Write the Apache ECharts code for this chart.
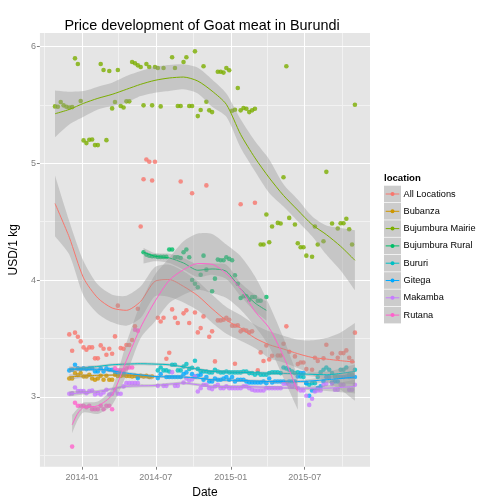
<!DOCTYPE html>
<html><head><meta charset="utf-8">
<style>html,body{margin:0;padding:0;background:#fff}#c{width:504px;height:504px}</style>
<script src="https://cdn.jsdelivr.net/npm/echarts@6/dist/echarts.min.js"></script>
</head><body><div id="c"></div>
<script>
const _ = null;
const firstWeek = '2013-10-27';
const xLabelDates = ['2014-01-01','2014-07-01','2015-01-01','2015-07-01'];
const xMinorDates = ['2013-10-01','2014-04-01','2014-10-01','2015-04-01','2015-10-01'];
const yLabels = [3,4,5,6];
const yMinor = [2.5,3.5,4.5,5.5];
const locations = ['All Locations','Bubanza','Bujumbura Mairie','Bujumbura Rural','Bururi','Gitega','Makamba','Rutana'];
const colors = ['#F8766D','#CD9600','#7CAE00','#00BE67','#00BFC4','#00A9FF','#C77CFF','#FF61CC'];

// weekly prices, one entry per week from firstWeek
const allLocations = [_,_,_,_,_,3.535,3.395,3.55,3.515,3.475,
 3.424,3.404,3.424,3.424,3.33,3.33,3.441,3.412,3.361,3.412,
 3.37,3.518,3.781,3.418,3.412,3.444,3.444,3.487,3.604,3.755,
 4.458,4.863,5.032,5.012,4.852,5.012,3.678,3.646,3.678,3.327,
 3.378,3.749,3.678,3.632,4.843,3.715,3.741,3.632,4.743,3.723,
 3.552,3.589,3.689,4.81,3.515,3.561,3.304,3.655,3.655,3.66,
 3.678,3.66,3.609,3.284,3.612,4.649,3.575,3.567,3.552,3.561,
 4.661,3.227,3.381,3.307,3.441,3.321,3.352,_,3.355,3.355,
 3.455,3.604,3.387,_,3.347,3.281,3.295,3.295,3.238,_,
 3.232,3.335,3.307,_,3.33,3.447,_,3.372,_,3.335,
 3.375,3.375,3.398,3.335,3.304,3.55];
const allExtraWeeks = [63,65];
const allExtraValues = [3.609,3.561];
const bubanza = [_,_,_,_,_,3.158,3.158,3.204,3.187,3.204,
 3.175,3.175,3.19,3.158,3.147,3.158,3.181,3.147,3.181,3.147,
 3.147,3.19,3.18,3.18,3.185,3.18,3.18,3.175,3.18,3.175,
 3.18,3.175,3.18,3.17,3.175];
const mairie = [5.486,5.483,5.523,5.495,5.483,5.477,5.48,5.897,5.849,5.532,
 5.195,5.172,5.2,5.203,5.155,5.155,5.849,5.797,5.197,5.789,
 5.469,5.523,5.797,5.489,5.477,5.529,5.529,5.866,5.855,5.837,
 5.823,5.495,5.849,5.823,5.495,5.823,5.815,5.486,5.815,_,
 _,5.906,5.815,5.489,5.489,5.866,5.906,5.489,5.489,5.957,
 5.403,5.455,5.829,5.526,5.452,5.437,_,5.783,5.783,5.775,
 5.815,5.795,5.449,5.457,5.643,5.452,5.472,5.466,5.437,5.452,
 5.466,_,4.304,4.304,4.561,4.324,4.458,_,4.489,4.484,
 4.88,5.829,4.532,_,4.475,4.315,4.281,4.281,4.209,_,
 4.2,4.458,4.304,_,4.332,4.926,_,4.484,_,4.441,
 4.486,4.486,4.524,4.435,4.304,5.5];
const rural = [_,_,_,_,_,_,_,_,_,_,
 _,_,_,_,_,_,_,_,_,_,
 _,_,_,_,_,_,_,_,_,_,
 _,4.238,4.218,4.209,4.204,4.204,4.198,4.198,4.198,4.198,
 4.261,4.261,4.195,4.195,4.189,4.238,4.261,4.195,4,3.969,
 3.938,4.046,4.209,4.089,_,3.904,4.012,4.175,4.169,4.169,
 4.195,4.181,4.169,4.041,3.969,3.846,3.861,3.861,3.832,3.855,
 3.855,3.823,3.823,_,3.855];
const bururi = [_,_,_,_,_,_,_,_,_,_,
 _,_,_,_,_,_,_,_,_,_,
 _,_,_,_,_,_,_,_,_,_,
 _,_,_,_,_,_,3.227,3.252,3.227,3.227,
 3.218,3.275,3.275,3.227,3.227,3.261,3.281,3.24,3.25,3.31,
 3.24,3.218,3.218,3.218,3.21,3.21,3.232,3.218,3.21,3.21,
 3.218,3.21,3.21,3.21,3.21,3.21,3.218,3.218,3.204,3.204,
 3.19,3.204,3.19,3.19,3.19,3.204,3.21,3.21,3.21,3.204,
 3.252,3.244,3.232,3.218,3.204,3.21,3.175,3.17,3.118,3.104,
 3.118,3.118,3.17,3.21,3.232,3.252,3.232,3.204,3.175,3.175,
 3.232,3.232,3.252,3.19,3.19,3.232];
const gitega = [_,_,_,_,_,3.227,3.232,3.275,3.244,3.238,
 3.244,3.238,3.244,3.244,3.218,3.218,3.244,3.218,3.244,3.232,
 3.232,3.218,3.21,3.21,3.2,_,_,_,_,3.161,
 _,_,_,_,_,_,3.161,3.195,_,3.17,
 3.17,3.17,3.17,3.17,3.17,3.195,3.21,_,3.195,3.175,
 3.181,3.19,3.147,3.17,3.132,3.132,3.158,3.147,3.147,3.158,
 3.17,3.147,3.17,3.132,3.147,3.147,3.147,3.132,3.124,3.124,
 3.124,3.124,3.124,3.132,3.118,3.158,3.124,3.132,3.132,3.132,
 3.132,3.124,3.132,3.132,3.132,3.175,3.204,3.204,3.118,3.01,
 3.055,3.055,3.075,3.09,3.132,3.17,3.17,3.124,3.132,3.132,
 3.17,3.17,3.175,3.17,3.17,3.17];
const makamba = [_,_,_,_,_,3.027,3.03,3.081,3.05,3.05,
 3.05,3.032,3.05,3.055,3.021,3.032,3.021,3.038,3.061,3.021,
 3.027,3.055,3.027,3.027,3.09,3.118,3.118,3.118,3.118,3.118,
 _,_,_,_,_,_,3.095,_,3.095,3.095,
 _,3.212,3.095,3.095,_,3.124,3.158,3.141,3.15,3.175,
 3.047,3.075,3.104,3.104,3.075,3.067,3.09,3.104,3.075,3.075,
 3.09,3.075,3.075,3.075,3.075,3.075,3.09,3.09,3.075,3.061,
 3.055,3.055,3.055,3.055,3.075,3.075,3.075,3.075,3.075,3.075,
 3.112,3.112,3.104,3.09,3.104,3.075,3.055,3.055,3.01,2.932,
 2.984,3.047,3.055,3.055,3.104,3.112,_,3.112,3.061,3.061,
 3.104,3.104,_,3.061,3.061,3.104];
const rutana = [_,_,_,_,_,_,2.575,2.95,2.924,2.924,
 2.924,2.912,2.924,2.895,2.895,2.895,2.924,2.895,2.924,2.924,
 2.895,3.244,3.227,3.227,3.227,3.244,3.252,3.252,3.575,3.567];

// smoothed curves: week number, fitted value, ribbon low and high
const allSmoothWeeks = [0,5,10,15,20,25,30,35,40,45,50,55,60,65,70,75,80,85,90,95,100,105];
const allFit = [4.655,4.366,4.018,3.846,3.761,3.741,3.818,3.989,4.004,3.946,3.866,3.755,3.655,3.59,3.504,3.447,3.41,3.37,3.338,3.324,3.31,3.298];
const allLow = [4.375,4.218,3.866,3.712,3.638,3.609,3.675,3.861,3.855,3.809,3.741,3.635,3.54,3.48,3.418,3.332,3.295,3.247,3.19,3.132,3.061,2.967];
const allHigh = [4.895,4.504,4.161,3.961,3.875,3.866,3.946,4.112,4.132,4.075,3.989,3.875,3.77,3.7,3.618,3.561,3.524,3.49,3.484,3.504,3.552,3.632];
const bubanzaSmoothWeeks = [5,15,25,34];
const bubanzaFit = [3.172,3.185,3.187,3.17];
const bubanzaLow = [3.15,3.175,3.177,3.148];
const bubanzaHigh = [3.194,3.195,3.197,3.192];
const mairieSmoothWeeks = [0,5,10,15,20,25,30,35,40,45,50,55,60,65,70,75,80,85,90,95,100,105];
const mairieFit = [5.423,5.46,5.512,5.555,5.589,5.632,5.675,5.709,5.729,5.737,5.703,5.617,5.503,5.246,5.046,4.875,4.724,4.598,4.475,4.389,4.289,4.169];
const mairieLow = [5.223,5.332,5.397,5.46,5.489,5.517,5.574,5.603,5.617,5.632,5.597,5.483,5.397,5.132,4.932,4.746,4.63,4.504,4.375,4.218,4.081,3.912];
const mairieHigh = [5.623,5.612,5.617,5.655,5.689,5.746,5.789,5.826,5.84,5.846,5.817,5.717,5.597,5.375,5.189,5.032,4.82,4.689,4.546,4.466,4.446,4.426];
const ruralSmoothWeeks = [31,35,40,45,50,55,60,65,70,74];
const ruralFit = [4.238,4.204,4.189,4.146,4.084,4.095,4.075,3.924,3.804,3.741];
const ruralLow = [4.141,4.161,4.146,4.089,4.026,4.046,4.009,3.861,3.732,3.655];
const ruralHigh = [4.275,4.232,4.226,4.189,4.132,4.141,4.132,3.975,3.875,3.818];
const bururiSmoothWeeks = [5,15,20,30,35,40,50,55,65,75,85,95,105];
const bururiFit = [3.232,3.261,3.275,3.284,3.281,3.275,3.238,3.218,3.21,3.204,3.198,3.19,3.218];
const bururiLow = [3.21,3.249,3.263,3.272,3.269,3.263,3.226,3.206,3.198,3.192,3.186,3.165,3.158];
const bururiHigh = [3.254,3.273,3.287,3.296,3.293,3.287,3.25,3.23,3.222,3.216,3.21,3.215,3.278];
const gitegaSmoothWeeks = [5,15,25,35,45,50,55,65,75,85,95,105];
const gitegaFit = [3.238,3.237,3.204,3.175,3.17,3.161,3.147,3.141,3.132,3.132,3.147,3.17];
const gitegaLow = [3.216,3.225,3.192,3.163,3.158,3.149,3.135,3.129,3.12,3.12,3.122,3.11];
const gitegaHigh = [3.26,3.249,3.216,3.187,3.182,3.173,3.159,3.153,3.144,3.144,3.172,3.23];
const makambaSmoothWeeks = [5,15,25,35,45,55,65,75,85,95,105];
const makambaFit = [3.027,3.047,3.09,3.098,3.118,3.09,3.09,3.081,3.075,3.075,3.09];
const makambaLow = [3.005,3.035,3.078,3.086,3.106,3.078,3.078,3.069,3.063,3.05,3.03];
const makambaHigh = [3.049,3.059,3.102,3.11,3.13,3.102,3.102,3.093,3.087,3.1,3.15];
const rutanaSmoothWeeks = [6,8,10,15,20,25,30,35,40,45,50,55,60,65,70,75,80,85];
const rutanaFit = [2.761,2.861,2.91,2.924,3.018,3.312,3.596,3.818,3.998,4.089,4.141,4.135,4.055,3.924,3.732,3.59,3.347,3.047];
const rutanaLow = [2.69,2.804,2.867,2.855,2.932,3.19,3.504,3.646,3.804,3.875,3.918,3.889,3.846,3.746,3.604,3.432,3.161,2.89];
const rutanaHigh = [2.847,2.904,2.952,2.961,3.075,3.461,3.804,4.046,4.189,4.332,4.398,4.395,4.304,4.204,4.032,3.789,3.504,3.175];

const DAY = 864e5;
const toTime = s => Date.parse(s + 'T00:00:00Z');
const t0 = toTime(firstWeek);
const weekTime = k => t0 + k * 7 * DAY;
const font = 'Liberation Sans';

const pointSets = [allLocations,bubanza,mairie,rural,bururi,gitega,makamba,rutana];
const smoothSets = [
 [allSmoothWeeks,allFit,allLow,allHigh],[bubanzaSmoothWeeks,bubanzaFit,bubanzaLow,bubanzaHigh],
 [mairieSmoothWeeks,mairieFit,mairieLow,mairieHigh],[ruralSmoothWeeks,ruralFit,ruralLow,ruralHigh],
 [bururiSmoothWeeks,bururiFit,bururiLow,bururiHigh],[gitegaSmoothWeeks,gitegaFit,gitegaLow,gitegaHigh],
 [makambaSmoothWeeks,makambaFit,makambaLow,makambaHigh],[rutanaSmoothWeeks,rutanaFit,rutanaLow,rutanaHigh]];

const series = [];
const gridSeries = (xs, ys, color, z) => ({
  type:'line', data:[], z, silent:true,
  markLine:{silent:true, symbol:'none', animation:false, label:{show:false}, z,
    lineStyle:{color, width:1, type:'solid'},
    data:[...xs.map(x=>({xAxis:toTime(x)})), ...ys.map(y=>({yAxis:y}))]}
});
series.push(gridSeries(xMinorDates, yMinor, '#F2F2F2', 1));
series.push(gridSeries(xLabelDates, yLabels, '#FFFFFF', 2));

pointSets.forEach((vals,i)=>{
  const pts = [];
  vals.forEach((v,k)=>{ if(v!==null) pts.push([weekTime(k),v]); });
  if(i===0) allExtraWeeks.forEach((k,j)=>pts.push([weekTime(k),allExtraValues[j]]));
  series.push({type:'scatter', name:locations[i], data:pts, symbol:'circle', symbolSize:4.6,
    itemStyle:{color:colors[i]}, z:5, silent:true, animation:false});
});
smoothSets.forEach(([wk,fit,lo,hi],i)=>{
  const z = 10+i;
  const rows = wk.map((k,j)=>[weekTime(k),lo[j],hi[j]]);
  series.push({type:'custom', data:rows, z, silent:true, animation:false, clip:true,
    encode:{x:0,y:[1,2]},
    renderItem:(params,api)=>{
      if(params.dataIndex!==0) return null;
      const top = rows.map(r=>api.coord([r[0],r[2]]));
      const bot = rows.map(r=>api.coord([r[0],r[1]])).reverse();
      const n = top.length;
      // doubled corners keep the ribbon's ends square when smoothed
      const pts = [top[0],...top,top[n-1],bot[0],...bot,bot[n-1]];
      return {type:'polygon', shape:{points:pts,smooth:0.25}, style:{fill:'#999999',opacity:0.4}};
    }});
  series.push({type:'line', data:wk.map((k,j)=>[weekTime(k),fit[j]]), symbol:'none', smooth:0.25,
    lineStyle:{color:colors[i],width:1}, z:z, silent:true, animation:false});
});

// legend
const legendX = 384, keySize = 17.3, legendTop = 185.7;
const legendItems = [{type:'text', x:legendX, y:178, style:{text:'location', font:'bold 9.6px "'+font+'"', fill:'#000', verticalAlign:'middle'}}];
locations.forEach((name,i)=>{
  const y = legendTop + i*keySize;
  legendItems.push({type:'rect', shape:{x:legendX,y:y,width:17,height:16.6}, style:{fill:'#CCCCCC'}});
  legendItems.push({type:'line', shape:{x1:legendX+1.7,y1:y+8.3,x2:legendX+15.3,y2:y+8.3}, style:{stroke:colors[i],lineWidth:1}});
  legendItems.push({type:'circle', shape:{cx:legendX+8.5,cy:y+8.3,r:2}, style:{fill:colors[i]}});
  legendItems.push({type:'text', x:legendX+19.5, y:y+8.3, style:{text:name, font:'9.2px "'+font+'"', fill:'#000', verticalAlign:'middle'}});
});

const pad = n => String(n).padStart(2,'0');
const chart = echarts.init(document.getElementById('c'), null, {renderer:'canvas'});
chart.setOption({
  animation:false,
  backgroundColor:'#fff',
  title:{text:'Price development of Goat meat in Burundi', left:197, top:14, textAlign:'center',
    textStyle:{fontFamily:font,fontSize:14.4,fontWeight:'normal',color:'#000'}},
  grid:{left:35.3,right:134,top:33,bottom:37.3,show:true,backgroundColor:'#E5E5E5',borderWidth:0},
  xAxis:{type:'value', scale:true, min:toTime('2013-09-20'), max:toTime('2015-12-08'),
    name:'Date', nameLocation:'middle', nameGap:14, nameTextStyle:{fontFamily:font,fontSize:12,color:'#000'},
    axisLine:{show:false}, splitLine:{show:false},
    axisTick:{show:true,length:3,lineStyle:{color:'#7F7F7F'},customValues:xLabelDates.map(toTime)},
    axisLabel:{color:'#7F7F7F',fontFamily:font,fontSize:9,margin:6,customValues:xLabelDates.map(toTime),
      formatter:v=>{const d=new Date(v);return d.getUTCFullYear()+'-'+pad(d.getUTCMonth()+1);}}},
  yAxis:{type:'value', min:2.403, max:6.114,
    name:'USD/1 kg', nameLocation:'middle', nameGap:12, nameTextStyle:{fontFamily:font,fontSize:12,color:'#000'},
    axisLine:{show:false}, splitLine:{show:false},
    axisTick:{show:true,length:3,lineStyle:{color:'#7F7F7F'},customValues:yLabels},
    axisLabel:{color:'#7F7F7F',fontFamily:font,fontSize:9,margin:4,customValues:yLabels,formatter:v=>String(v)}},
  graphic:legendItems,
  series
});
</script></body></html>
